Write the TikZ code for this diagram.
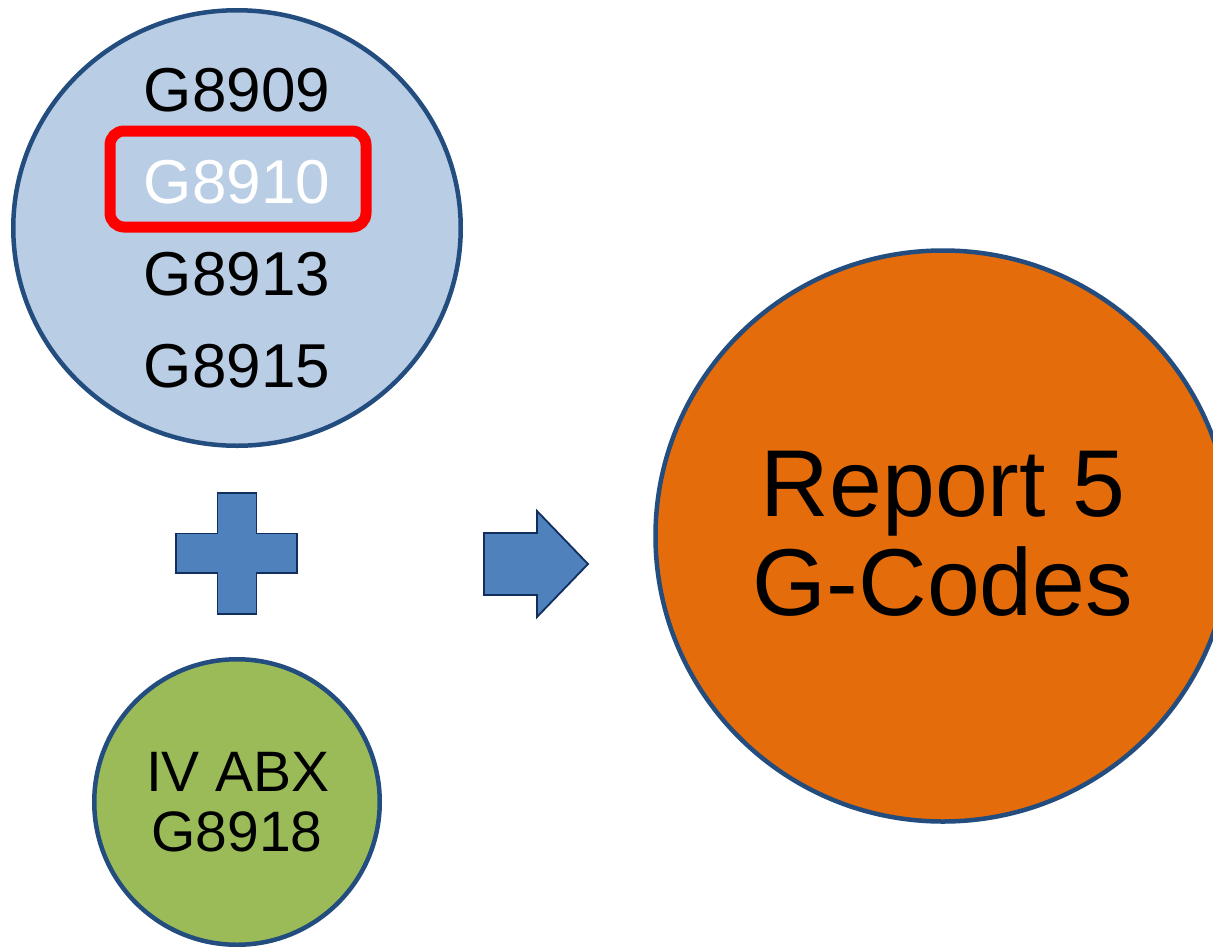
\documentclass[tikz,border=0pt]{standalone}
\usepackage{fontspec}
\setmainfont{Liberation Sans}
\usetikzlibrary{shapes.geometric}
\definecolor{ltblue}{HTML}{B9CDE5}
\definecolor{edgeblue}{HTML}{234C7F}
\definecolor{orng}{HTML}{E46C0A}
\definecolor{grn}{HTML}{9BBB59}
\definecolor{shapeblue}{HTML}{4F81BD}
\definecolor{navy}{HTML}{112E5C}
\tikzset{
  bubble/.style={ellipse, draw=edgeblue, line width=4.5pt, inner sep=0pt, outer sep=0pt},
  codetxt/.style={anchor=base, font=\fontsize{62}{62}\selectfont, inner sep=0pt},
  bigtxt/.style={anchor=base, font=\fontsize{95}{95}\selectfont, inner sep=0pt},
  abxtxt/.style={anchor=base, font=\fontsize{57}{57}\selectfont, inner sep=0pt},
  glyph/.style={fill=shapeblue, draw=navy, line width=1.8pt, line join=miter}
}
\begin{document}
\begin{tikzpicture}[x=1pt,y=-1pt]
\useasboundingbox (0,0) rectangle (1213,946);
\clip (0,0) rectangle (1213,946);
\fill[white] (0,0) rectangle (1213,946);

% top circle with the codes
\node[bubble, fill=ltblue, minimum width=447.5pt, minimum height=435.5pt] (codes) at (237,228) {};
\node[codetxt] (c1) at (237,111) {G8909};
\node[codetxt, text=white] (c2) at (237,203) {G8910};
\node[codetxt] (c3) at (237,295) {G8913};
\node[codetxt] (c4) at (237,387) {G8915};
\node[draw=red, line width=11pt, rounded corners=14pt, minimum width=256pt, minimum height=96pt, inner sep=0pt] (sel) at (238,179) {};

% plus sign
\draw[glyph] (217.5,493) -- (256.5,493) -- (256.5,533.5) -- (297,533.5) -- (297,573) -- (256.5,573)
  -- (256.5,614) -- (217.5,614) -- (217.5,573) -- (176,573) -- (176,533.5) -- (217.5,533.5) -- cycle;

% block arrow
\draw[glyph] (484,533) -- (537,533) -- (537,511) -- (588,564) -- (537,617) -- (537,595) -- (484,595) -- cycle;

% green circle
\node[bubble, fill=grn, minimum width=285.5pt, minimum height=285.5pt] (abx) at (237,802) {};
\node[abxtxt] (a1) at (238,791) {IV ABX};
\node[abxtxt] (a2) at (237,851) {G8918};

% orange circle
\node[bubble, fill=orng, minimum width=575pt, minimum height=571pt] (report) at (943,536) {};
\node[bigtxt] (r1) at (943,516) {Report 5};
\node[bigtxt] (r2) at (943,615) {G-Codes};
\end{tikzpicture}
\end{document}
